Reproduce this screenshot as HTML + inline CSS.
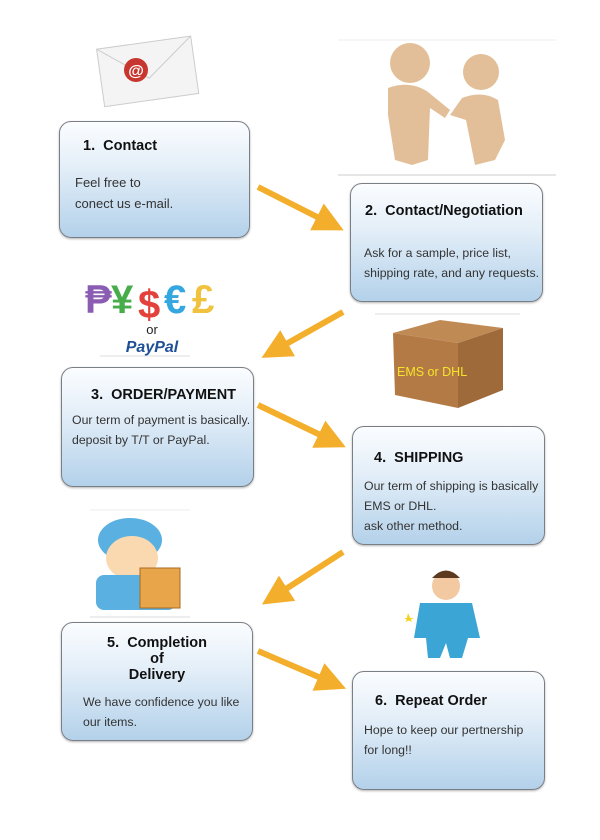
<!DOCTYPE html>
<html><head><meta charset="utf-8"><style>
body{margin:0;width:600px;height:840px;background:#fff;position:relative;overflow:hidden;font-family:"Liberation Sans",sans-serif}
.b{position:absolute;width:191px;height:117px;border:1px solid #7a7f86;border-radius:12px;background:linear-gradient(#fbfdff 0%,#e3eef8 40%,#b3d1ea 100%);box-shadow:0 1px 2px rgba(0,0,0,.3);box-sizing:border-box;color:#222}
.t{position:absolute;font-weight:bold;font-size:14.5px;color:#111}
.p{position:absolute;font-size:12.3px;line-height:20px;color:#333}
svg{position:absolute;left:0;top:0}
</style></head><body>
<svg width="600" height="840">
<defs><marker id="a" markerWidth="5" markerHeight="5" refX="3" refY="2.5" orient="auto"><path d="M0,0 L5,2.5 L0,5 Z" fill="#f3ae2c"/></marker></defs>
<g stroke="#f3ae2c" stroke-width="6" marker-end="url(#a)">
<line x1="258" y1="187" x2="333" y2="225"/>
<line x1="343" y1="312" x2="272" y2="352"/>
<line x1="258" y1="405" x2="335" y2="442"/>
<line x1="343" y1="552" x2="272" y2="598"/>
<line x1="258" y1="651" x2="335" y2="684"/>
</g>
<g transform="rotate(-8 150 70)"><rect x="100" y="42" width="95" height="58" fill="#f4f4f4" stroke="#ccc"/><path d="M100,42 L148,78 L195,42" fill="none" stroke="#ccc"/></g>
<circle cx="136" cy="70" r="12" fill="#c8372f"/><text x="136" y="76" font-size="16" fill="#fff" text-anchor="middle" font-weight="bold">@</text>
<line x1="338" y1="40" x2="556" y2="40" stroke="#eee"/>
<line x1="338" y1="175" x2="556" y2="175" stroke="#ccc"/>
<g fill="#e2bf98"><circle cx="410" cy="63" r="20"/><path d="M388,88 Q410,80 428,92 L450,110 L445,118 L430,108 L428,160 L412,165 L395,160 L388,115 Z"/><circle cx="481" cy="72" r="18"/><path d="M462,98 Q482,90 498,100 L505,140 L495,160 L475,165 L466,120 L450,115 L455,108 Z"/></g>
<text x="85" y="313" font-size="40" font-weight="bold" fill="#8a5db3">₱</text><text x="111" y="313" font-size="40" font-weight="bold" fill="#47ad4a">¥</text><text x="138" y="318" font-size="40" font-weight="bold" fill="#e2413c">$</text><text x="164" y="313" font-size="40" font-weight="bold" fill="#34a6e0">€</text><text x="192" y="313" font-size="40" font-weight="bold" fill="#f0c23e">£</text>
<text x="152" y="334" font-size="13" text-anchor="middle" fill="#222">or</text>
<text x="152" y="352" font-size="16" font-style="italic" font-weight="bold" text-anchor="middle" fill="#1f4f95">PayPal</text>
<line x1="100" y1="356" x2="190" y2="356" stroke="#ddd"/>
<line x1="375" y1="314" x2="520" y2="314" stroke="#ddd"/>
<path d="M393,333 L440,320 L503,328 L458,343 Z" fill="#c08a55"/>
<path d="M393,333 L458,343 L458,408 L395,395 Z" fill="#b47a45"/>
<path d="M458,343 L503,328 L503,390 L458,408 Z" fill="#9e6a3a"/>
<text x="397" y="376" font-size="12.5" fill="#f5e52a">EMS or DHL</text>
<line x1="90" y1="510" x2="190" y2="510" stroke="#eee"/>
<ellipse cx="130" cy="540" rx="32" ry="22" fill="#5ab0e0"/><ellipse cx="132" cy="558" rx="26" ry="22" fill="#fbd9b0"/>
<rect x="96" y="575" width="80" height="35" rx="8" fill="#5ab0e0"/>
<rect x="140" y="568" width="40" height="40" fill="#e8a54a" stroke="#a86a22"/>
<line x1="90" y1="617" x2="190" y2="617" stroke="#ddd"/>
<g transform="translate(0,38)">
<circle cx="446" cy="548" r="14" fill="#f2c9a0"/><path d="M432,540 Q446,525 460,540" fill="#5b3a20"/>
<path d="M420,565 L472,565 L480,600 L468,600 L462,620 L450,620 L446,605 L440,620 L428,620 L426,600 L414,600 Z" fill="#3ba5d6"/>
<polygon points="408,575 412,584 404,580 414,580 406,584" fill="#f5d21f"/>
</g>
</svg>
<div class="b" style="left:59px;top:121px"></div>
<div class="t" style="left:83px;top:138px">1.&nbsp; Contact</div>
<div class="p" style="left:75px;top:172px;font-size:13px;line-height:21px">Feel free to<br>conect us e-mail.</div>
<div class="b" style="left:350px;top:183px;width:193px;height:119px"></div>
<div class="t" style="left:365px;top:203px">2.&nbsp; Contact/Negotiation</div>
<div class="p" style="left:364px;top:243px">Ask for a sample, price list,<br>shipping rate, and any requests.</div>
<div class="b" style="left:61px;top:367px;width:193px;height:120px"></div>
<div class="t" style="left:91px;top:387px">3.&nbsp; ORDER/PAYMENT</div>
<div class="p" style="left:72px;top:410px">Our term of payment is basically.<br>deposit by T/T or PayPal.</div>
<div class="b" style="left:352px;top:426px;width:193px;height:119px"></div>
<div class="t" style="left:374px;top:450px">4.&nbsp; SHIPPING</div>
<div class="p" style="left:364px;top:476px">Our term of shipping is basically<br>EMS or DHL.<br>ask other method.</div>
<div class="b" style="left:61px;top:622px;width:192px;height:119px"></div>
<div class="t" style="left:102px;top:635px;text-align:center;width:110px;line-height:16px">5.&nbsp; Completion<br>of<br>Delivery</div>
<div class="p" style="left:83px;top:692px">We have confidence you like<br>our items.</div>
<div class="b" style="left:352px;top:671px;width:193px;height:119px"></div>
<div class="t" style="left:375px;top:693px">6.&nbsp; Repeat Order</div>
<div class="p" style="left:364px;top:720px">Hope to keep our pertnership<br>for long!!</div>
</body></html>
